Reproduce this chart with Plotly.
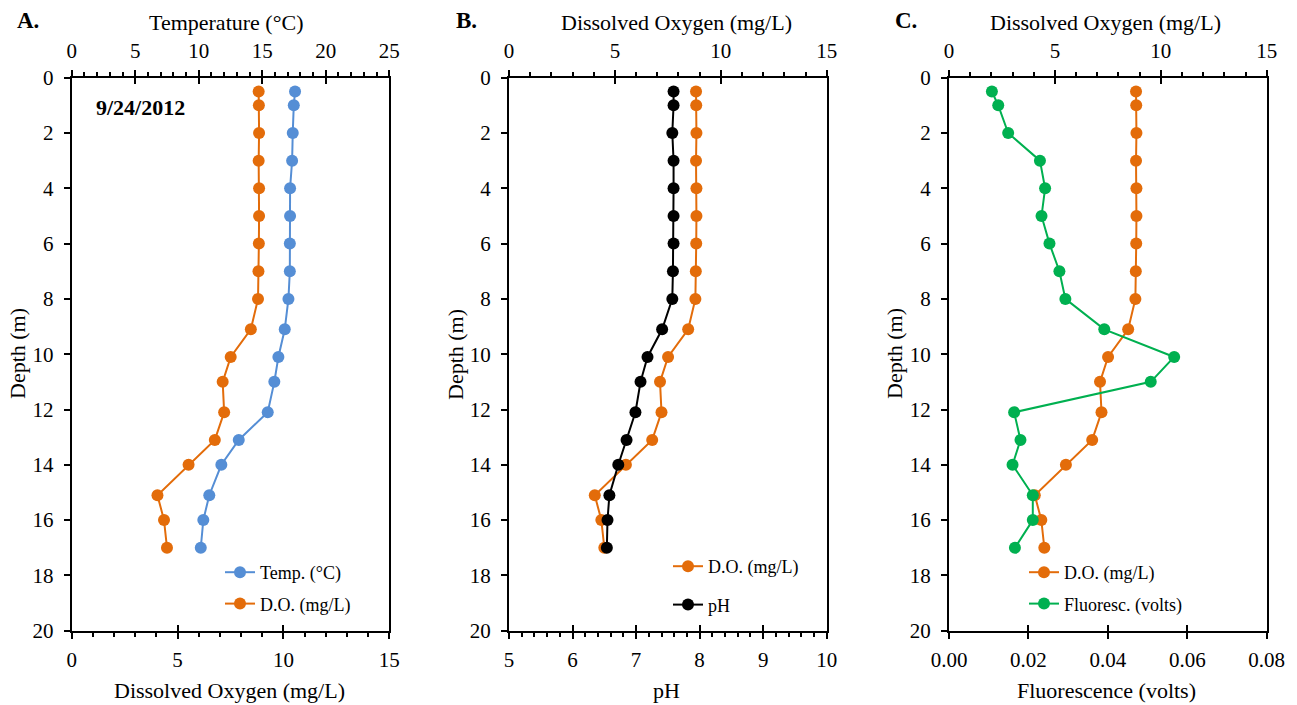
import plotly.graph_objects as go

# Profile data, 9/24/2012
depth_m = [0.5, 1.0, 2.0, 3.0, 4.0, 5.0, 6.0, 7.0, 8.0, 9.1, 10.1, 11.0, 12.1, 13.1, 14.0, 15.1, 16.0, 17.0]
temp_c = [17.58, 17.48, 17.40, 17.35, 17.19, 17.19, 17.17, 17.17, 17.06, 16.77, 16.27, 15.95, 15.43, 13.15, 11.78, 10.83, 10.36, 10.16]
do_mgl = [8.83, 8.84, 8.85, 8.83, 8.85, 8.85, 8.84, 8.82, 8.80, 8.46, 7.51, 7.13, 7.20, 6.76, 5.52, 4.05, 4.36, 4.50]
ph = [7.59, 7.59, 7.57, 7.59, 7.59, 7.59, 7.59, 7.58, 7.57, 7.41, 7.18, 7.07, 6.99, 6.85, 6.72, 6.58, 6.55, 6.54]
fluor_v = [0.0108, 0.0124, 0.0149, 0.0229, 0.0242, 0.0233, 0.0253, 0.0278, 0.0293, 0.0391, 0.0567, 0.0508,
           0.0164, 0.0180, 0.0160, 0.0211, 0.0211, 0.0166]

FONT = "'Liberation Serif', 'Times New Roman', serif"
ORANGE = "#E36C0A"
BLUE = "#558ED5"
GREEN = "#00B050"
BLACK = "#000000"
W, H = 1297, 705

# plot-area boxes in pixels (left, right) and shared vertical extent
panels_px = [(71.7, 389.3), (509.0, 826.7), (949.0, 1266.7)]
y_top_px, y_bot_px = 77.7, 630.7
ydom = [1 - y_bot_px / H, 1 - y_top_px / H]

fig = go.Figure()


def line_trace(x, name, color, xaxis, yaxis, legend, rank):
    return go.Scatter(
        x=x, y=depth_m, name=name, mode="lines+markers",
        line=dict(color=color, width=2),
        marker=dict(color=color, size=12),
        xaxis=xaxis, yaxis=yaxis, legend=legend, legendrank=rank,
        legendgroup=name + legend, hoverinfo="x+y",
    )


# Panel A: D.O. on bottom axis (x1), temperature on top axis (x2)
fig.add_trace(line_trace(do_mgl, "D.O. (mg/L)", ORANGE, "x", "y", "legend", 2))
fig.add_trace(line_trace(temp_c, "Temp. (°C)", BLUE, "x2", "y", "legend", 1))
# Panel B: D.O. on top axis (x5), pH on bottom axis (x6)
fig.add_trace(line_trace(do_mgl, "D.O. (mg/L)", ORANGE, "x5", "y2", "legend2", 1))
fig.add_trace(line_trace(ph, "pH", BLACK, "x6", "y2", "legend2", 2))
# Panel C: D.O. on top axis (x9), fluorescence on bottom axis (x10)
fig.add_trace(line_trace(do_mgl, "D.O. (mg/L)", ORANGE, "x9", "y3", "legend3", 1))
fig.add_trace(line_trace(fluor_v, "Fluoresc. (volts)", GREEN, "x10", "y3", "legend3", 2))

# empty traces so the inner-tick helper axes get drawn
for xa, ya in [("x3", "y"), ("x4", "y"), ("x7", "y2"), ("x8", "y2"), ("x11", "y3"), ("x12", "y3")]:
    fig.add_trace(go.Scatter(x=[None], y=[None], xaxis=xa, yaxis=ya, showlegend=False, hoverinfo="skip"))

tickfont = dict(family=FONT, size=21, color="black")


def x_axis(dom, side, rng, dtick, minor_dtick, anchor, overlaying=None, labels=True, inside=False):
    ax = dict(
        domain=dom, side=side, range=rng, dtick=dtick, tick0=rng[0], anchor=anchor,
        showgrid=False, zeroline=False, tickfont=tickfont, automargin=False,
        ticks="inside" if inside else "outside", ticklen=6, tickwidth=2, tickcolor="black",
        showticklabels=labels, fixedrange=True,
    )
    if overlaying:
        ax["overlaying"] = overlaying
    if not inside:
        ax.update(showline=True, linecolor="black", linewidth=2, ticklabelstandoff=3)
        if minor_dtick:
            ax["minor"] = dict(dtick=minor_dtick, ticks="outside", ticklen=4, tickwidth=1.5,
                               tickcolor="black", showgrid=False)
    else:
        ax["showline"] = False
    return ax


def y_axis(dom, anchor):
    return dict(
        domain=dom, range=[20, 0], dtick=2, tick0=0, anchor=anchor, automargin=False,
        showgrid=False, zeroline=False, showline=True, mirror=True,
        linecolor="black", linewidth=2, ticks="outside", ticklen=6, tickwidth=2,
        tickcolor="black", tickfont=tickfont, ticklabelstandoff=6, fixedrange=True,
    )


doms = [[l / W, r / W] for l, r in panels_px]

layout = dict(
    template="none",
    width=W, height=H, margin=dict(l=0, r=0, t=0, b=0, pad=0),
    paper_bgcolor="white", plot_bgcolor="white",
    font=dict(family=FONT, color="black"),
    # Panel A
    xaxis=x_axis(doms[0], "bottom", [0, 15], 5, 1, "y"),
    xaxis2=x_axis(doms[0], "top", [0, 25], 5, 1, "y", overlaying="x"),
    xaxis3=x_axis(doms[0], "bottom", [0, 15], 5, None, "y", overlaying="x", labels=False, inside=True),
    xaxis4=x_axis(doms[0], "top", [0, 25], 5, None, "y", overlaying="x", labels=False, inside=True),
    yaxis=y_axis(ydom, "x"),
    # Panel B
    xaxis5=x_axis(doms[1], "top", [0, 15], 5, 1, "y2"),
    xaxis6=x_axis(doms[1], "bottom", [5, 10], 1, 0.2, "y2", overlaying="x5"),
    xaxis7=x_axis(doms[1], "top", [0, 15], 5, None, "y2", overlaying="x5", labels=False, inside=True),
    xaxis8=x_axis(doms[1], "bottom", [5, 10], 1, None, "y2", overlaying="x5", labels=False, inside=True),
    yaxis2=y_axis(ydom, "x5"),
    # Panel C
    xaxis9=x_axis(doms[2], "top", [0, 15], 5, 1, "y3"),
    xaxis10=x_axis(doms[2], "bottom", [0, 0.08], 0.02, None, "y3", overlaying="x9"),
    xaxis11=x_axis(doms[2], "top", [0, 15], 5, None, "y3", overlaying="x9", labels=False, inside=True),
    xaxis12=x_axis(doms[2], "bottom", [0, 0.08], 0.02, None, "y3", overlaying="x9", labels=False, inside=True),
    yaxis3=y_axis(ydom, "x9"),
)
layout["xaxis10"]["tickformat"] = ".2f"

legend_font = dict(family=FONT, size=18, color="black")
# (left edge px, top edge px, gap between entries px)
for key, left_px, top_px, gap in [("legend", 220, 554, 5), ("legend2", 668, 548, 12), ("legend3", 1024, 554, 5)]:
    layout[key] = dict(
        x=left_px / W, y=1 - top_px / H, xanchor="left", yanchor="top",
        bgcolor="rgba(0,0,0,0)", borderwidth=0, font=legend_font,
        traceorder="grouped", tracegroupgap=gap, itemclick=False, itemdoubleclick=False,
    )

fig.update_layout(**layout)


def text(x_px, y_px, s, size=22, bold=False, angle=0, xanchor="center"):
    fig.add_annotation(
        x=x_px / W, y=1 - y_px / H, xref="paper", yref="paper", text=f"<b>{s}</b>" if bold else s,
        showarrow=False, xanchor=xanchor, yanchor="middle", textangle=angle,
        font=dict(family=FONT, size=size, color="black"),
    )


# panel letters
text(15, 20, "A.", size=23, bold=True, xanchor="left")
text(454, 20, "B.", size=23, bold=True, xanchor="left")
text(893, 20, "C.", size=23, bold=True, xanchor="left")
# top axis titles
text(226, 22, "Temperature (°C)")
text(676, 22, "Dissolved Oxygen (mg/L)")
text(1105, 22, "Dissolved Oxygen (mg/L)")
# bottom axis titles
text(229, 690, "Dissolved Oxygen (mg/L)")
text(666, 690, "pH")
text(1106, 690, "Fluorescence (volts)")
# depth titles
text(18, 354, "Depth (m)", angle=-90)
text(456, 354, "Depth (m)", angle=-90)
text(895, 354, "Depth (m)", angle=-90)
# sampling date
text(94, 107, "9/24/2012", size=22, bold=True, xanchor="left")

fig.write_html("out.html")
